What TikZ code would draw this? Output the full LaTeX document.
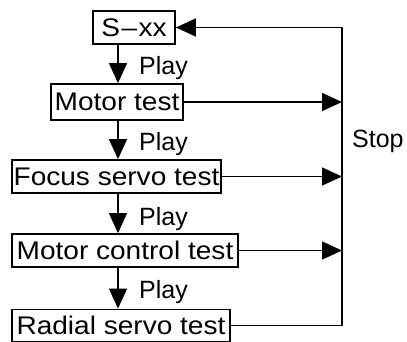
\documentclass[tikz,border=0pt]{standalone}
\usepackage{fontspec}
\setmainfont{Liberation Sans}
\newfontfamily\boxfont[FakeStretch=1.1]{Liberation Sans}
\usetikzlibrary{arrows.meta}
\begin{document}
\begin{tikzpicture}[x=1pt,y=-1pt,
  box/.style={draw, line width=1.8pt, inner sep=0pt, font=\boxfont\fontsize{25.5}{30}\selectfont},
  conn/.style={line width=1.5pt},
  arr/.style={conn, -{Triangle[length=20pt,width=18pt]}},
  lbl/.style={anchor=base west, inner sep=0pt, font=\fontsize{25}{30}\selectfont}]
\useasboundingbox (0,0) rectangle (407,341);
\node[box, minimum width=82pt, minimum height=33pt] (s) at (134,27.5) {S\kern1.5pt–\kern1.5pt xx};
\node[box, minimum width=132pt, minimum height=36pt] (m) at (117,102) {Motor test};
\node[box, minimum width=209pt, minimum height=33pt] (f) at (116.5,176.5) {Focus servo test};
\node[box, minimum width=226pt, minimum height=33pt] (mc) at (125,250.5) {Motor control test};
\node[box, minimum width=218pt, minimum height=32pt] (r) at (121,325.5) {Radial servo test};
\coordinate (ax) at (118,0);
\coordinate (rx) at (342,0);
\draw[arr] (ax |- s.south) -- (ax |- m.north);
\draw[arr] (ax |- m.south) -- (ax |- f.north);
\draw[arr] (ax |- f.south) -- (ax |- mc.north);
\draw[arr] (ax |- mc.south) -- (ax |- r.north);
\node[lbl] (p1) at (139,74) {Play};
\node[lbl] (p2) at (139,150) {Play};
\node[lbl] (p3) at (139,225) {Play};
\node[lbl] (p4) at (139,298) {Play};
\draw[arr] (m.east) -- (rx |- m.east);
\draw[arr] (f.east) -- (rx |- f.east);
\draw[arr] (mc.east) -- (rx |- mc.east);
\draw[arr] (r.east) -- (rx |- r.east) -- (rx |- s.east) -- (s.east);
\node[lbl] (stop) at (352,147) {Stop};
\end{tikzpicture}
\end{document}
